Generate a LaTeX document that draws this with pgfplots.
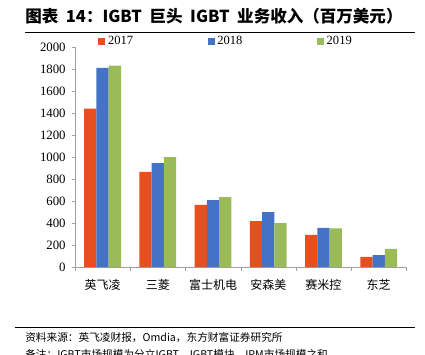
\documentclass[border=0pt]{standalone}
\usepackage{pgfplots}
\pgfplotsset{compat=1.18}
\usepackage{fontspec}
\setmainfont{Liberation Serif}
\newfontfamily\cjk{Noto Sans CJK SC}
\definecolor{c17}{HTML}{E5501E}
\definecolor{c18}{HTML}{4472C4}
\definecolor{c19}{HTML}{9BBB59}
\definecolor{axgray}{HTML}{A0A0A0}
\begin{document}
\begin{tikzpicture}
\path[use as bounding box] (0pt,0pt) rectangle (318.75pt,265.5pt);
\node[anchor=west,font=\cjk\bfseries\fontsize{12.4pt}{14pt}\selectfont,inner sep=0pt] at (18.75pt,253pt) {图表\ \ 14：IGBT\ \ 巨头\ \ IGBT\ \ 业务收入（百万美元）};
\draw[line width=0.6pt] (18.75pt,241.5pt) -- (311.25pt,241.5pt);
\draw[line width=0.6pt] (11.25pt,20.25pt) -- (311.25pt,20.25pt);
\node[anchor=west,font=\cjk\fontsize{8pt}{10pt}\selectfont,inner sep=0pt] at (18.75pt,12pt) {资料来源：英飞凌财报，Omdia，东方财富证券研究所};
\node[anchor=west,font=\cjk\fontsize{8pt}{10pt}\selectfont,inner sep=0pt] at (18.75pt,0pt) {备注：IGBT市场规模为分立IGBT、IGBT模块、IPM市场规模之和};
\begin{axis}[
  at={(56.25pt,65.25pt)}, anchor=south west,
  scale only axis, width=248.5pt, height=165pt,
  xmin=-0.5, xmax=5.5, ymin=0, ymax=2000,
  axis lines*=left,
  axis line style={axgray},
  ybar=0pt, bar width=9.2pt,
  xtick={0,1,2,3,4,5},
  xticklabels={英飞凌,三菱,富士机电,安森美,赛米控,东芝},
  x tick label style={font=\cjk\fontsize{9pt}{10pt}\selectfont, yshift=-3pt},
  major x tick style={draw=none},
  minor xtick={-0.5,0.5,1.5,2.5,3.5,4.5,5.5},
  minor tick length=3pt,
  minor x tick style={axgray},
  ytick={0,200,...,2000},
  y tick label style={font=\fontsize{9.6pt}{10pt}\selectfont, xshift=-1pt},
  /pgf/number format/assume math mode=true,
  /pgf/number format/1000 sep={},
  tick align=outside,
  major tick length=2.5pt,
  y tick style={axgray},
  legend style={draw=none, at={(0.07,1.025)}, anchor=west, font=\fontsize{9.4pt}{10pt}\selectfont, /tikz/every even column/.append style={column sep=54pt}, inner sep=0pt},
  legend columns=3,
  legend image code/.code={\fill[#1] (0pt,-2.6pt) rectangle (5.2pt,2.6pt);},
  clip=false,
]
\addplot[fill=c17,draw=none] coordinates {(0,1440) (1,865) (2,565) (3,418) (4,292) (5,92)};
\addplot[fill=c18,draw=none] coordinates {(0,1810) (1,945) (2,608) (3,500) (4,355) (5,108)};
\addplot[fill=c19,draw=none] coordinates {(0,1830) (1,1000) (2,636) (3,400) (4,352) (5,165)};
\legend{2017,2018,2019}
\end{axis}
\end{tikzpicture}
\end{document}
